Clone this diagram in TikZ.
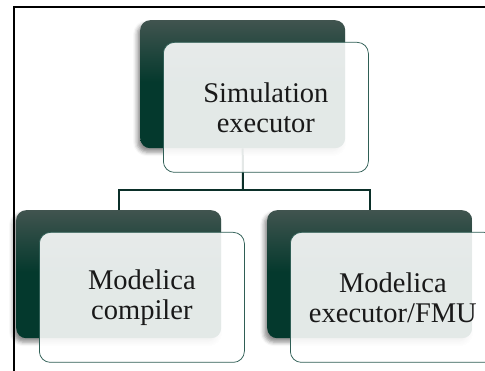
\documentclass[tikz,border=0pt]{standalone}
\usepackage{fontspec}
\setmainfont{Liberation Serif}
\usetikzlibrary{shadows.blur}
\definecolor{dkTop}{HTML}{41544F}
\definecolor{dkBot}{HTML}{04392D}
\definecolor{edgeGreen}{HTML}{2F5E55}
\definecolor{connGreen}{HTML}{0B2F29}
% dark panel: grey-green at the top, solid deep green from about half way down
\pgfdeclareverticalshading{darkpanel}{100bp}{color(0bp)=(dkBot); color(25bp)=(dkBot); color(51bp)=(dkBot); color(75bp)=(dkTop); color(100bp)=(dkTop)}
\tikzset{
  darkbox/.style={rounded corners=10pt, draw=none, shading=darkpanel,
    minimum width=205pt, minimum height=128pt, anchor=north west, inner sep=0pt,
    blur shadow={shadow xshift=-3pt, shadow yshift=-4pt, shadow blur radius=4pt, shadow opacity=45}},
  lightbox/.style={rounded corners=11pt, draw=edgeGreen, line width=0.75pt, fill=white, fill opacity=0.89,
    text opacity=1, minimum width=205pt, minimum height=130pt, anchor=north west, inner sep=0pt,
    align=center, font=\fontsize{28.5}{30}\selectfont, text=black!90},
  conn/.style={draw=connGreen, line width=2pt}
}
\begin{document}
\begin{tikzpicture}[x=1pt, y=-1pt]
\useasboundingbox (0,0) rectangle (485,371);
% frame lines
\draw[black, line width=2pt] (14,371) -- (14,7) -- (485,7);
% back (dark) panels
\node[darkbox] (topdark) at (140,20) {};
\node[darkbox] (leftdark) at (16,210) {};
\node[darkbox] (rightdark) at (267,210) {};
% connectors
\coordinate (bus) at (243,190);
\draw[conn] (topdark.south) -- (bus);
\draw[conn] (leftdark.north) |- (bus) -| (rightdark.north);
% front (light) panels with labels
\node[lightbox] (toplight) at (163,42) {Simulation\\executor};
\node[lightbox] (leftlight) at (39,232) {Modelica\\compiler};
\node[lightbox] (rightlight) at (290,232) {Modelica\\executor/FMU};
\end{tikzpicture}
\end{document}
